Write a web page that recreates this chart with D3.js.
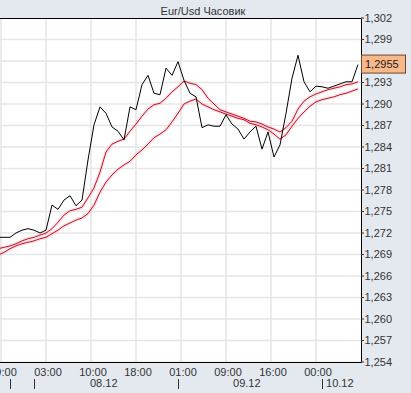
<!DOCTYPE html>
<html><head><meta charset="utf-8">
<script src="https://cdn.jsdelivr.net/npm/d3@7"></script>
<style>
html,body{margin:0;padding:0;background:#e4e9f0;}
svg{display:block;font-family:"Liberation Sans",Arial,sans-serif;}
</style></head>
<body>
<svg id="chart" width="411" height="393"></svg>
<script>
// hours relative to 08.12 00:00, one point per hour
const startHour = -5;
const price = [1.2714,1.2714,1.2714,1.2720,1.2724,1.2726,1.2724,1.2720,1.2724,1.2759,
1.2753,1.2766,1.2772,1.2758,1.2766,1.2822,1.2871,1.2896,1.2887,1.2868,
1.2862,1.2850,1.2896,1.2892,1.2927,1.2940,1.2915,1.2913,1.2950,1.2940,
1.2959,1.2933,1.2915,1.2910,1.2867,1.2871,1.2869,1.2869,1.2885,1.2872,
1.2865,1.2851,1.2861,1.2869,1.2837,1.2861,1.2826,1.2843,1.2887,1.2936,
1.2968,1.2931,1.2917,1.2925,1.2924,1.2922,1.2925,1.2928,1.2931,1.2931,1.2955];
const maFast = [1.2698,1.2700,1.2702,1.2705,1.2709,1.2712,1.2714,1.2717,1.2720,1.2726,
1.2735,1.2745,1.2751,1.2753,1.2756,1.2769,1.2783,1.2805,1.2833,1.2844,
1.2848,1.2851,1.2862,1.2872,1.2883,1.2893,1.2899,1.2901,1.2908,1.2917,
1.2924,1.2932,1.2929,1.2927,1.2920,1.2908,1.2900,1.2892,1.2889,1.2886,
1.2883,1.2880,1.2876,1.2875,1.2872,1.2868,1.2865,1.2861,1.2867,1.2876,
1.2893,1.2904,1.2910,1.2914,1.2917,1.2920,1.2922,1.2924,1.2927,1.2928,1.2931];
const maSlow = [1.2689,1.2693,1.2698,1.2702,1.2705,1.2707,1.2709,1.2712,1.2714,1.2719,
1.2724,1.2730,1.2734,1.2738,1.2741,1.2747,1.2759,1.2777,1.2791,1.2801,
1.2809,1.2815,1.2820,1.2829,1.2836,1.2844,1.2853,1.2858,1.2864,1.2875,
1.2887,1.2900,1.2904,1.2907,1.2900,1.2896,1.2892,1.2889,1.2886,1.2883,
1.2880,1.2878,1.2873,1.2871,1.2868,1.2864,1.2858,1.2851,1.2857,1.2869,
1.2880,1.2889,1.2897,1.2903,1.2906,1.2908,1.2910,1.2913,1.2915,1.2918,1.2921];
const yTicks = [1.254,1.257,1.260,1.263,1.266,1.269,1.272,1.275,1.278,1.281,1.284,1.287,1.290,1.293,1.296,1.299,1.302];
const yTickLabels = ["1,254","1,257","1,260","1,263","1,266","1,269","1,272","1,275","1,278","1,281","1,284","1,287","1,290","1,293","1,296","1,299","1,302"];
const timeTickHours = [-4.5,3,10.5,18,25.5,33,40.5,48];
const timeTickLabels = ["19:00","03:00","10:00","18:00","01:00","09:00","16:00","00:00"];
const dayTickHours = [-3,1,25,49];
const dayLabelHours = [10.33,34.17,49.67];
const dayLabels = ["08.12","09.12","10.12"];
const lastValue = 1.2955;
const lastLabel = "1,2955";
const title = "Eur/Usd Часовик";

const svg = d3.select("#chart");
const L = 0, R = 361, T = 18, B = 362;
const x = d3.scaleLinear().domain([-28/6, (361-28)/6]).range([L, R]);
const y = d3.scaleLinear().domain([1.254, 1.302]).range([B, T]);

svg.append("rect").attr("x",0).attr("y",0).attr("width",411).attr("height",393).attr("fill","#e4e9f0");
svg.append("rect").attr("x",L).attr("y",T).attr("width",R-L).attr("height",B-T).attr("fill","#fff");

svg.append("defs").append("clipPath").attr("id","clip")
  .append("rect").attr("x",L).attr("y",T).attr("width",R-L).attr("height",B-T);

const grid = svg.append("g").attr("clip-path","url(#clip)");
grid.selectAll("line.h").data(yTicks).enter().append("line")
  .attr("x1",L).attr("x2",R).attr("y1",d=>y(d)).attr("y2",d=>y(d))
  .attr("stroke","#e6e6e6").attr("stroke-width",1.6);
grid.selectAll("line.v").data(timeTickHours).enter().append("line")
  .attr("y1",T).attr("y2",B).attr("x1",d=>x(d)).attr("x2",d=>x(d))
  .attr("stroke","#e6e6e6").attr("stroke-width",1.6);

const pts = arr => arr.map((v,i)=>[startHour+i, v]);
const line = d3.line().x(d=>x(d[0])).y(d=>y(d[1]));
const plot = svg.append("g").attr("clip-path","url(#clip)");
[maSlow, maFast].forEach(arr=>{
  plot.append("path").attr("d",line(pts(arr))).attr("fill","none")
    .attr("stroke","rgba(255,160,170,0.3)").attr("stroke-width",3.5);
});
[maSlow, maFast].forEach(arr=>{
  plot.append("path").attr("d",line(pts(arr))).attr("fill","none")
    .attr("stroke","#c01028").attr("stroke-width",1);
});
plot.append("path").attr("d",line(pts(price))).attr("fill","none")
  .attr("stroke","#000").attr("stroke-width",1);

// border
svg.append("path").attr("d",`M${L},${T+0.5}H${R+0.5}V${B+0.5}H${L}`)
  .attr("fill","none").attr("stroke","#000").attr("stroke-width",1);

// last value box position
const by = y(lastValue);
const boxTop = by - 9.5, boxBottom = by + 8.5;

// y axis labels (labels hidden behind the value box are not drawn)
const visibleTicks = yTicks.map((d,i)=>({v:d,label:yTickLabels[i]}))
  .filter(d => y(d.v) < boxTop - 5 || y(d.v) > boxBottom + 5);
const ya = svg.append("g");
ya.selectAll("line").data(yTicks).enter().append("line")
  .attr("x1",R).attr("x2",R+3).attr("y1",d=>y(d)).attr("y2",d=>y(d)).attr("stroke","#333");
ya.selectAll("text").data(visibleTicks).enter().append("text")
  .attr("x",R+3.5).attr("y",d=>y(d.v)).attr("dy","0.35em")
  .attr("font-size",11).attr("fill","#333").text(d=>d.label);

svg.append("rect").attr("x",R+0.5).attr("y",boxTop).attr("width",44).attr("height",18)
  .attr("fill","#f8b88a").attr("stroke","#6b4a30").attr("stroke-width",1);
svg.append("text").attr("x",R+4).attr("y",by).attr("dy","0.35em")
  .attr("font-size",11).attr("fill","#222").text(lastLabel);

// x axis labels
svg.selectAll("text.tt").data(timeTickHours).enter().append("text")
  .attr("x",d=>x(d)+2).attr("y",376).attr("text-anchor","middle")
  .attr("font-size",11).attr("fill","#333").text((d,i)=>timeTickLabels[i]);
svg.selectAll("line.dt").data(dayTickHours).enter().append("line")
  .attr("x1",d=>Math.round(x(d))+0.5).attr("x2",d=>Math.round(x(d))+0.5)
  .attr("y1",379).attr("y2",389).attr("stroke","#333");
svg.selectAll("text.dl").data(dayLabelHours).enter().append("text")
  .attr("x",d=>x(d)).attr("y",387)
  .attr("font-size",11).attr("fill","#333").text((d,i)=>dayLabels[i]);

svg.append("text").attr("x",203).attr("y",15).attr("text-anchor","middle")
  .attr("font-size",11).attr("fill","#333").text(title);
</script>
</body></html>
